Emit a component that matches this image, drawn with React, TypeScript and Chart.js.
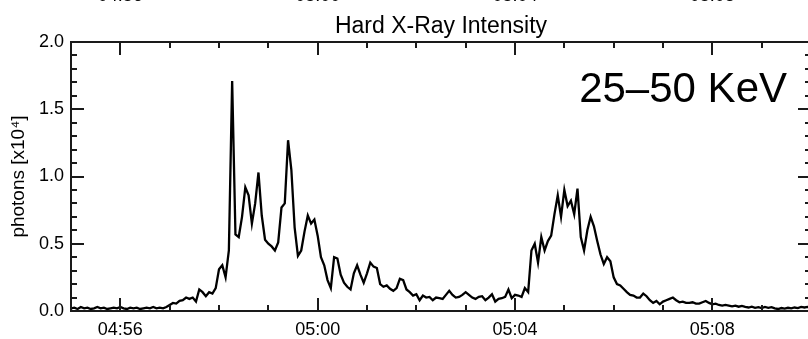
import React, { useEffect, useRef } from 'react';
import { Chart, registerables } from 'chart.js';

Chart.register(...registerables);

// ---------------- data ----------------
const START_TIME = '04:55:00';
const END_TIME = '05:10:00';
const SAMPLE_STEP_SECONDS = 4;
const X_TICK_LABELS = ['04:56', '05:00', '05:04', '05:08'];
const Y_TICK_VALUES = [0, 0.5, 1.0, 1.5, 2.0];
const CHART_TITLE = 'Hard X-Ray Intensity';
const Y_AXIS_TITLE = 'photons [x10⁴]';
const ENERGY_BAND = '25–50 KeV';

// photons [x10^4], one value every SAMPLE_STEP_SECONDS from START_TIME
const PRE_FLARE = [
  0.02, 0.025, 0.015, 0.03, 0.02, 0.025, 0.015, 0.02, 0.03, 0.02,
  0.025, 0.015, 0.02, 0.025, 0.02, 0.03, 0.02, 0.015, 0.025, 0.02,
  0.025, 0.015, 0.02, 0.025, 0.02, 0.03, 0.02, 0.025, 0.02, 0.03,
];
const IMPULSIVE = [
  0.045, 0.06, 0.055, 0.075, 0.08, 0.1, 0.09, 0.1, 0.07, 0.16,
  0.14, 0.11, 0.14, 0.13, 0.17, 0.31, 0.34, 0.25, 0.45, 1.71,
  0.57, 0.55, 0.7, 0.92, 0.86, 0.65, 0.8, 1.03, 0.71, 0.53,
  0.5, 0.48, 0.45, 0.51, 0.77, 0.8, 1.27, 1.05, 0.62, 0.41,
  0.45, 0.59, 0.71, 0.65, 0.68, 0.56, 0.4, 0.34, 0.23, 0.17,
  0.4, 0.39, 0.27, 0.21, 0.18, 0.16, 0.28, 0.34, 0.27, 0.21,
  0.28, 0.36, 0.33, 0.32, 0.2, 0.18, 0.19, 0.165, 0.15, 0.17,
];
const DECAY = [
  0.24, 0.23, 0.16, 0.14, 0.115, 0.125, 0.08, 0.115, 0.1, 0.105,
  0.08, 0.1, 0.095, 0.09, 0.12, 0.15, 0.12, 0.1, 0.105, 0.12,
  0.14, 0.12, 0.1, 0.09, 0.105, 0.11, 0.08, 0.1, 0.125, 0.07,
  0.09, 0.095, 0.105, 0.16, 0.095, 0.12, 0.115, 0.105, 0.17, 0.14,
];
const SECOND_BURST = [
  0.45, 0.5, 0.36, 0.55, 0.45, 0.52, 0.56, 0.72, 0.86, 0.7,
  0.9, 0.78, 0.82, 0.72, 0.91, 0.55, 0.45, 0.6, 0.7, 0.63,
  0.52, 0.42, 0.35, 0.4, 0.37, 0.25, 0.2, 0.19, 0.165, 0.14,
  0.12, 0.115, 0.1, 0.1, 0.13, 0.11, 0.08, 0.06, 0.075, 0.05,
];
const POST_FLARE = [
  0.07, 0.08, 0.09, 0.1, 0.08, 0.065, 0.07, 0.06, 0.06, 0.065,
  0.055, 0.055, 0.065, 0.075, 0.06, 0.05, 0.055, 0.045, 0.04, 0.045,
  0.04, 0.035, 0.04, 0.032, 0.038, 0.03, 0.026, 0.032, 0.024, 0.028,
  0.022, 0.03, 0.024, 0.029, 0.02, 0.015, 0.022, 0.018, 0.024, 0.02,
  0.026, 0.022, 0.03, 0.026, 0.03, 0.025,
];

// ---------------- style ----------------
const FONT_FAMILY = '"Liberation Sans", Arial, Helvetica, sans-serif';
const FRAME_COLOR = '#1a1a1a';
const MINOR_X_SECONDS = 60;
const MAJOR_X_SECONDS = 240;
const MINOR_Y_DIVS = 20; // 0.1 steps over 0..2
const MAJOR_Y_EVERY = 5;

const toSeconds = (hms: string) => {
  const [h, m, s] = hms.split(':');
  return Number(h) * 3600 + Number(m) * 60 + Number(s || 0);
};
const formatHM = (sec: number) => {
  const h = Math.floor(sec / 3600);
  const m = Math.round((sec - h * 3600) / 60);
  return `${String(h).padStart(2, '0')}:${String(m).padStart(2, '0')}`;
};

const frameTicksPlugin = {
  id: 'frameTicks',
  afterDraw(chart: any) {
    const { ctx, chartArea: a } = chart;
    const xs = chart.scales.x;
    const ys = chart.scales.y;
    ctx.save();
    ctx.strokeStyle = FRAME_COLOR;
    ctx.lineWidth = 2;
    ctx.beginPath();
    const first = Math.ceil(xs.min / MINOR_X_SECONDS) * MINOR_X_SECONDS;
    for (let t = first; t <= xs.max; t += MINOR_X_SECONDS) {
      const p = Math.round(xs.getPixelForValue(t));
      const len = t % MAJOR_X_SECONDS === 0 ? 13 : 6;
      ctx.moveTo(p, a.bottom);
      ctx.lineTo(p, a.bottom - len);
      ctx.moveTo(p, a.top);
      ctx.lineTo(p, a.top + len);
    }
    for (let k = 0; k <= MINOR_Y_DIVS; k++) {
      const v = (k * (ys.max - ys.min)) / MINOR_Y_DIVS + ys.min;
      const p = Math.round(ys.getPixelForValue(v));
      const len = k % MAJOR_Y_EVERY === 0 ? 13 : 6;
      ctx.moveTo(a.left, p);
      ctx.lineTo(a.left + len, p);
      ctx.moveTo(a.right, p);
      ctx.lineTo(a.right - len, p);
    }
    ctx.stroke();
    ctx.fillStyle = '#000';
    ctx.font = `42px ${FONT_FAMILY}`;
    ctx.textAlign = 'right';
    ctx.textBaseline = 'alphabetic';
    ctx.fillText(ENERGY_BAND, a.right - 24, a.top + 60);
    ctx.restore();
  },
};

export default function App() {
  const ref = useRef<HTMLCanvasElement | null>(null);

  useEffect(() => {
    const canvas = ref.current;
    if (!canvas) return;
    const t0 = toSeconds(START_TIME);
    const t1 = toSeconds(END_TIME);
    const series = [...PRE_FLARE, ...IMPULSIVE, ...DECAY, ...SECOND_BURST, ...POST_FLARE];
    const points = series.map((v, i) => ({ x: t0 + i * SAMPLE_STEP_SECONDS, y: v }));
    const majorX = X_TICK_LABELS.map((l) => toSeconds(l));
    const setXTicks = (s: any) => {
      s.ticks = majorX.map((value) => ({ value }));
    };
    const setYTicks = (s: any) => {
      s.ticks = Y_TICK_VALUES.map((value) => ({ value }));
    };
    const tickFont = { family: FONT_FAMILY, size: 18 };
    const border = { display: true, color: FRAME_COLOR, width: 2 };
    const noGrid = { display: true, drawOnChartArea: false, drawTicks: false };

    const chart = new Chart(canvas, {
      type: 'line',
      data: {
        datasets: [
          {
            data: points,
            borderColor: '#000',
            borderWidth: 2.3,
            pointRadius: 0,
            tension: 0,
            fill: false,
          },
        ],
      },
      options: {
        animation: false,
        responsive: false,
        events: [],
        layout: { padding: 0 },
        plugins: { legend: { display: false }, title: { display: false }, tooltip: { enabled: false } },
        scales: {
          x: {
            type: 'linear',
            position: 'bottom',
            min: t0,
            max: t1,
            afterBuildTicks: setXTicks,
            ticks: { callback: (v: any) => formatHM(Number(v)), font: tickFont, color: '#000', padding: 8, autoSkip: false, maxRotation: 0 },
            grid: noGrid,
            border,
            afterFit: (s: any) => { s.height = 28; },
          },
          x2: {
            type: 'linear',
            position: 'top',
            weight: 0,
            min: t0,
            max: t1,
            afterBuildTicks: setXTicks,
            ticks: { display: false },
            grid: noGrid,
            border,
            title: { display: true, text: CHART_TITLE, color: '#000', font: { family: FONT_FAMILY, size: 23 }, padding: { top: 4.5, bottom: 0 } },
            afterFit: (s: any) => { s.height = 34; },
          },
          x3: {
            type: 'linear',
            position: 'top',
            weight: 1,
            min: t0,
            max: t1,
            afterBuildTicks: setXTicks,
            ticks: { callback: (v: any) => formatHM(Number(v)), font: tickFont, color: '#000', padding: 1, autoSkip: false, maxRotation: 0 },
            grid: { display: false, drawTicks: false },
            border: { display: false },
            afterFit: (s: any) => { s.height = 32; },
          },
          y: {
            type: 'linear',
            position: 'left',
            min: 0,
            max: 2,
            afterBuildTicks: setYTicks,
            ticks: { callback: (v: any) => Number(v).toFixed(1), font: tickFont, color: '#000', padding: 7 },
            grid: noGrid,
            border,
            title: { display: true, text: Y_AXIS_TITLE, color: '#000', font: { family: FONT_FAMILY, size: 19 }, padding: { top: 7, bottom: 0 } },
            afterFit: (s: any) => { s.width = 71; },
          },
          y2: {
            type: 'linear',
            position: 'right',
            min: 0,
            max: 2,
            ticks: { display: false },
            grid: noGrid,
            border,
            afterFit: (s: any) => { s.width = 19; },
          },
        },
      },
      plugins: [frameTicksPlugin],
    } as any);

    return () => chart.destroy();
  }, []);

  return (
    <div style={{ position: 'fixed', left: 0, top: 0, width: 808, height: 339, overflow: 'hidden', background: '#fff' }}>
      <canvas
        ref={ref}
        width={830}
        height={363}
        style={{ position: 'absolute', left: 0, top: -24, width: 830, height: 363 }}
      />
    </div>
  );
}
